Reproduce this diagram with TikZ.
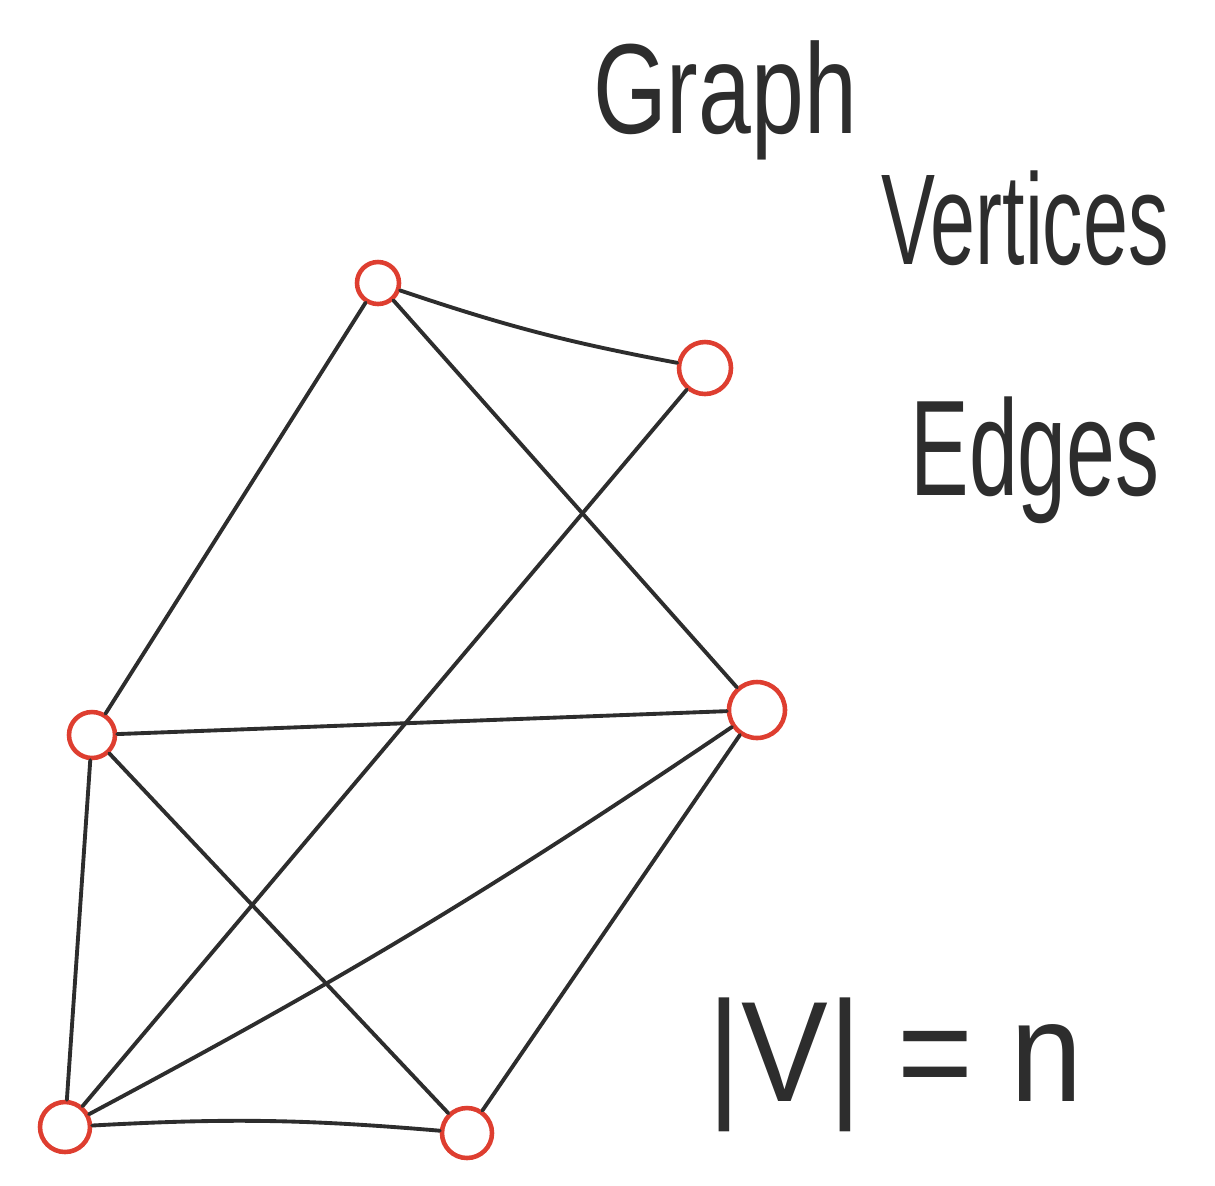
\documentclass[tikz,border=0pt]{standalone}
\usepackage{fontspec}
\setmainfont{Liberation Sans}
\usetikzlibrary{positioning}
\definecolor{inkred}{RGB}{222,62,48}
\definecolor{ink}{RGB}{45,45,45}

\begin{document}
\begin{tikzpicture}[
    vertex/.style={circle, draw=inkred, line width=1.3pt, inner sep=0pt, minimum size=0.46cm},
    edge/.style={draw=ink, line width=1.1pt, line cap=round},
    note/.style={text=ink, inner sep=0pt}
]
    \useasboundingbox (0,0) rectangle (12.15,-11.85);

    % vertices
    \node[vertex, minimum size=0.42cm] (top)      at (3.78,-2.83) {};
    \node[vertex, minimum size=0.52cm] (upright)  at (7.05,-3.68) {};
    \node[vertex, minimum size=0.46cm] (midleft)  at (0.92,-7.35) {};
    \node[vertex, minimum size=0.56cm] (midright) at (7.57,-7.10) {};
    \node[vertex, minimum size=0.50cm] (botleft)  at (0.65,-11.27) {};
    \node[vertex, minimum size=0.50cm] (botmid)   at (4.67,-11.33) {};

    % edges
    \draw[edge] (top) to[bend right=4] (upright);
    \draw[edge] (top) -- (midleft);
    \draw[edge] (top) -- (midright);
    \draw[edge] (upright) -- (botleft);
    \draw[edge] (midleft) -- (midright);
    \draw[edge] (midleft) -- (botleft);
    \draw[edge] (midleft) -- (botmid);
    \draw[edge] (midright) to[bend left=3] (botleft);
    \draw[edge] (midright) -- (botmid);
    \draw[edge] (botleft) to[bend left=4] (botmid);

    % labels
    \node[note, font=\fontsize{27}{27}\selectfont] (graph) at (7.25,-1.0) {\scalebox{1}[1.35]{Graph}};
    \node[note, font=\fontsize{23}{23}\selectfont] (verts) at (10.25,-2.18) {\scalebox{1}[1.6]{Vertices}};
    \node[note, font=\fontsize{25}{25}\selectfont] (edges) at (10.35,-4.6) {\scalebox{1}[1.55]{Edges}};
    \node[note, font=\fontsize{37}{37}\selectfont] (count) at (8.95,-10.65) {\scalebox{1}[1.1]{|V| = n}};
\end{tikzpicture}
\end{document}
